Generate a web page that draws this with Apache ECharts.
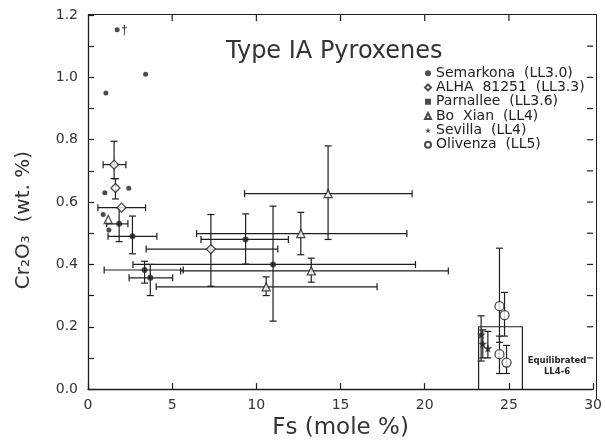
<!DOCTYPE html>
<html><head><meta charset="utf-8">
<script src="https://cdn.jsdelivr.net/npm/echarts@6/dist/echarts.min.js"></script>
<style>html,body{margin:0;padding:0;background:#fff}
#wrap{position:relative;width:605px;height:445px}
#c{width:605px;height:445px}
#frame{position:absolute;left:88px;top:14px;width:509px;height:385px;border-top:1.5px solid #1e1e1e;border-right:1.5px solid #1e1e1e;box-sizing:border-box;pointer-events:none;z-index:5}</style>
</head><body><div id="wrap"><div id="c"></div><div id="frame"></div></div>
<script>
// Each record: [Fs, Cr2O3, FsLow, FsHigh, CrLow, CrHigh]  (null = no error bar)
const semarkona = [[1.06,0.95],[1.73,1.153],[3.42,1.01],[1.0,0.63],[2.42,0.644],[0.9,0.56],[1.24,0.51]];
const alha81251 = [
  [1.55,0.72,0.9,2.25,0.675,0.795],
  [1.63,0.645,null,null,0.61,0.675],
  [1.99,0.582,0.59,3.42,null,null],
  [7.3,0.449,3.45,11.27,0.33,0.56]
];
const parnallee = [
  [1.85,0.53,1.11,2.37,0.473,0.582],
  [2.64,0.49,1.19,4.09,0.434,0.555],
  [9.36,0.48,6.71,11.9,0.401,0.562],
  [10.99,0.40,2.67,19.45,0.218,0.587],
  [3.36,0.382,0.96,5.66,0.34,0.41],
  [3.7,0.357,2.44,5.03,0.30,0.40]
];
const boXian = [
  [1.2,0.544,null,null,null,null],
  [12.64,0.499,6.45,18.94,0.431,0.567],
  [14.26,0.627,9.3,19.25,0.48,0.78],
  [13.26,0.379,5.5,21.4,0.343,0.42],
  [10.58,0.328,4.05,17.17,0.30,0.36]
];
const sevilla = [
  [23.35,0.175,null,null,0.09,0.235],
  [23.45,0.145,null,null,0.10,0.19],
  [23.75,0.131,null,null,0.10,0.185]
];
const olivenza = [
  [24.44,0.266,null,null,0.15,0.452],
  [24.74,0.237,null,null,0.17,0.31],
  [24.44,0.112,null,null,0.05,0.17],
  [24.86,0.085,null,null,0.05,0.14]
];
const equilibratedBox = [[23.2,0],[23.2,0.2],[25.8,0.2],[25.8,0]];
const xTicks = [0,5,10,15,20,25,30];
const yTicks = [0.0,0.2,0.4,0.6,0.8,1.0,1.2];
const topTickVals = [5,10,15,20,25];
const rightTickVals = [0.1,0.2,0.3,0.4,0.5,0.6,0.7,0.8,0.9,1.0,1.1];
const legendNames = ['Semarkona  (LL3.0)','ALHA  81251  (LL3.3)','Parnallee  (LL3.6)','Bo  Xian  (LL4)','Sevilla  (LL4)','Olivenza  (LL5)'];

const INK = '#1e1e1e';
const STAR = 'path://M50,0 L61,35 L98,35 L68,57 L79,91 L50,70 L21,91 L32,57 L2,35 L39,35 Z';

function errSeries(arr, id) {
  return {
    type: 'custom', name: 'err' + id, silent: true, z: 2,
    data: arr.map(d => [d[0], d[1]]),
    renderItem: function (params, api) {
      const d = arr[params.dataIndex];
      const ch = [];
      const cap = 3.5;
      const st = { stroke: INK, lineWidth: 1.2 };
      if (d[2] != null) {
        const a = api.coord([d[2], d[1]]), b = api.coord([d[3], d[1]]);
        ch.push({ type: 'line', shape: { x1: a[0], y1: a[1], x2: b[0], y2: b[1] }, style: st });
        ch.push({ type: 'line', shape: { x1: a[0], y1: a[1] - cap, x2: a[0], y2: a[1] + cap }, style: st });
        ch.push({ type: 'line', shape: { x1: b[0], y1: b[1] - cap, x2: b[0], y2: b[1] + cap }, style: st });
      }
      if (d[4] != null) {
        const a = api.coord([d[0], d[4]]), b = api.coord([d[0], d[5]]);
        ch.push({ type: 'line', shape: { x1: a[0], y1: a[1], x2: b[0], y2: b[1] }, style: st });
        ch.push({ type: 'line', shape: { x1: a[0] - cap, y1: a[1], x2: a[0] + cap, y2: a[1] }, style: st });
        ch.push({ type: 'line', shape: { x1: b[0] - cap, y1: b[1], x2: b[0] + cap, y2: b[1] }, style: st });
      }
      return { type: 'group', children: ch };
    }
  };
}
function pts(arr, name, symbol, size, filled) {
  return {
    type: 'scatter', name: name, symbol: symbol, symbolSize: size, z: 5,
    data: arr.map(d => [d[0], d[1]]),
    itemStyle: filled ? { color: INK } : { color: '#fff', borderColor: INK, borderWidth: 1.3 }
  };
}
// inward ticks along the top and right edges (drawn slightly inside the extremes)
const edgeTicks = {
  type: 'custom', name: 'edgeTicks', silent: true, z: 3, clip: false,
  data: topTickVals.map(v => [v, 1.19]).concat(rightTickVals.map(v => [29.9, v])),
  renderItem: function (params, api) {
    const isTop = params.dataIndex < topTickVals.length;
    const st = { stroke: INK, lineWidth: 1.2 };
    if (isTop) {
      const p = api.coord([api.value(0), 1.2]);
      return { type: 'line', shape: { x1: p[0], y1: p[1], x2: p[0], y2: p[1] + 6 }, style: st };
    }
    const p = api.coord([30, api.value(1)]);
    return { type: 'line', shape: { x1: p[0], y1: p[1], x2: p[0] - 6, y2: p[1] }, style: st };
  }
};

const chart = echarts.init(document.getElementById('c'));
function axisStyle() {
  return {
    axisLine: { show: true, onZero: false, lineStyle: { color: INK, width: 1.3 } },
    axisTick: { show: true, inside: true, length: 6, lineStyle: { color: INK, width: 1.2 } },
    splitLine: { show: false }
  };
}
chart.setOption({
  backgroundColor: '#fff',
  animation: false,
  textStyle: { fontFamily: 'DejaVu Sans' },
  title: {
    text: 'Type IA Pyroxenes', left: 221, top: 35,
    textStyle: { fontSize: 24, fontWeight: 'normal', color: '#333', fontFamily: 'DejaVu Sans' }
  },
  legend: {
    orient: 'vertical', left: 419, top: 61, itemWidth: 6, itemHeight: 6, itemGap: 0,
    selectedMode: false,
    data: legendNames.map((n, i) => ({ name: n, icon: i === 2 ? 'rect' : undefined })),
    textStyle: { fontSize: 14, color: '#222', lineHeight: 14.3 }
  },
  grid: { left: 88, right: 8.5, top: 15, bottom: 46 },
  xAxis: Object.assign(axisStyle(), {
    type: 'value', min: 0, max: 30, interval: 5,
    name: 'Fs (mole %)', nameLocation: 'middle', nameGap: 23,
    nameTextStyle: { fontSize: 23, color: '#333' },
    axisLabel: { fontSize: 14, color: '#333', margin: 9,
      formatter: v => xTicks.includes(v) ? String(v) : '' }
  }),
  yAxis: Object.assign(axisStyle(), {
    type: 'value', min: 0, max: 1.2, interval: 0.2,
    name: 'Cr₂O₃  (wt. %)', nameLocation: 'middle', nameGap: 54,
    nameTextStyle: { fontSize: 20, color: '#333', padding: [0, 0, 0, -36] },
    minorTick: { show: true, splitNumber: 2, length: 6, lineStyle: { color: INK, width: 1.2 } },
    axisLabel: { fontSize: 14, color: '#333', margin: 10,
      formatter: v => yTicks.some(t => Math.abs(t - v) < 1e-9) ? v.toFixed(1) : '' }
  }),
  series: [
    {
      type: 'line', name: 'box', data: equilibratedBox, symbol: 'none', silent: true, z: 1,
      lineStyle: { color: INK, width: 1.2 }
    },
    edgeTicks,
    errSeries(alha81251, 1), errSeries(parnallee, 2), errSeries(boXian, 3),
    errSeries(sevilla, 4), errSeries(olivenza, 5),
    pts(semarkona, legendNames[0], 'circle', 5, true),
    pts(alha81251, legendNames[1], 'diamond', 9, false),
    pts(parnallee, legendNames[2], 'circle', 6, true),
    pts(boXian, legendNames[3], 'triangle', 8, false),
    pts(sevilla, legendNames[4], STAR, 9, true),
    pts(olivenza, legendNames[5], 'circle', 9, false)
  ],
  graphic: [
    { type: 'text', x: 557, y: 355, style: { text: 'Equilibrated\nLL4-6', align: 'center', fontSize: 8.5, fontWeight: 'bold', fill: '#222', lineHeight: 11, fontFamily: 'DejaVu Sans' } },
    { type: 'text', left: 121, top: 25, style: { text: '†', fontSize: 12, fill: '#222' } }
  ]
});
</script></body></html>
